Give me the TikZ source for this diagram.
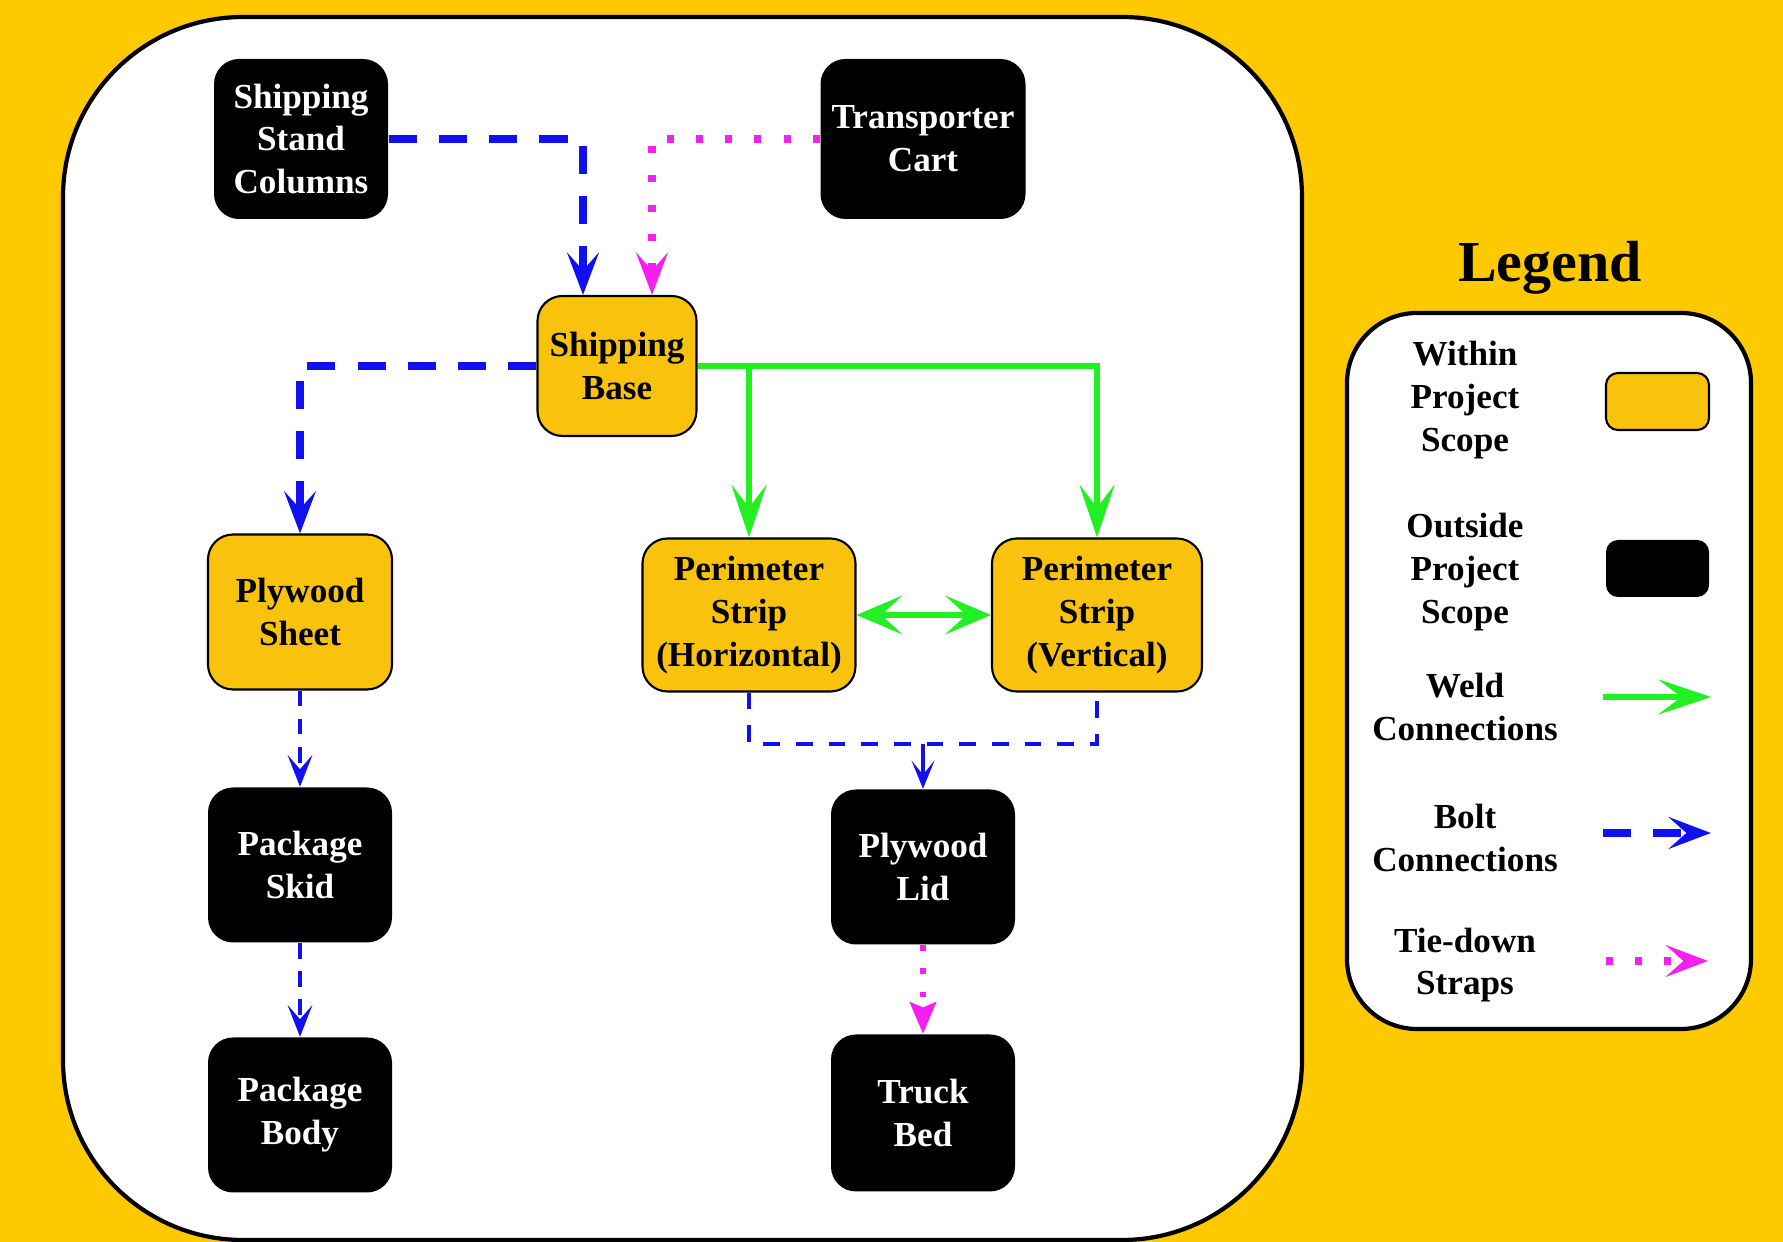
\documentclass[tikz,border=0pt]{standalone}
\usepackage{fontspec}
\setmainfont{Liberation Serif}
\usepackage{xcolor}
\usetikzlibrary{arrows.meta,positioning}
\definecolor{gold}{HTML}{FFC900}
\definecolor{scopegold}{HTML}{F9C20C}
\definecolor{weldgreen}{HTML}{22F022}
\definecolor{boltblue}{HTML}{1010F0}
\definecolor{strapmagenta}{HTML}{F420F0}
\newcommand{\partfont}{\fontsize{10}{12.2}\selectfont\bfseries}
\tikzset{%
  partbox/.style={rounded corners=0.25cm, align=center, inner sep=2pt,
    minimum width=1.84cm, minimum height=1.55cm, font=\partfont},
  inscope/.style={partbox, fill=scopegold, draw=black, line width=0.6pt},
  outscope/.style={partbox, fill=black, text=white},
  panel/.style={draw=black, fill=white, line width=1.2pt},
  weld/.style={draw=weldgreen, line width=1.6pt,
    -{Stealth[length=15pt,width=10pt,inset=6.5pt]}},
  bolt/.style={draw=boltblue, line width=2pt, dash pattern=on 8pt off 6.3pt,
    -{Stealth[length=12pt,width=9pt,inset=5pt]}},
  boltmid/.style={draw=boltblue, line width=1.4pt, dash pattern=on 4.5pt off 3.5pt,
    -{Stealth[length=9pt,width=7pt,inset=4pt]}},
  boltline/.style={draw=boltblue, line width=1.1pt, dash pattern=on 4.8pt off 4.5pt},
  strap/.style={draw=strapmagenta, line width=2pt, dash pattern=on 2pt off 6.3pt,
    -{Stealth[length=12pt,width=9pt,inset=5pt]}},
  strapmid/.style={draw=strapmagenta, line width=1.5pt, dash pattern=on 1.6pt off 5pt,
    -{Stealth[length=9pt,width=7.5pt,inset=1.5pt]}},
  keytext/.style={align=center, font=\partfont},
}

\begin{document}
\begin{tikzpicture}
    \useasboundingbox (0,0) rectangle (17.83,-12.42);
    \fill[gold] (0,0) rectangle (17.83,-12.42);
    \draw[panel, rounded corners=1.8cm] (0.63,-0.17) rectangle (13.02,-12.40);

    \node[outscope, minimum width=1.74cm, minimum height=1.60cm] (ssc) at (3.01,-1.39) {Shipping\\Stand\\Columns};
    \node[outscope, minimum width=2.05cm, minimum height=1.60cm] (cart) at (9.23,-1.39) {Transporter\\Cart};
    \node[inscope, minimum width=1.59cm, minimum height=1.40cm] (base) at (6.17,-3.66) {Shipping\\Base};
    \node[inscope] (sheet) at (3.00,-6.12) {Plywood\\Sheet};
    \node[inscope, minimum width=2.13cm, minimum height=1.53cm] (hstrip) at (7.49,-6.15) {Perimeter\\Strip\\(Horizontal)};
    \node[inscope, minimum width=2.10cm, minimum height=1.53cm] (vstrip) at (10.97,-6.15) {Perimeter\\Strip\\(Vertical)};
    \node[outscope] (skid) at (3.00,-8.65) {Package\\Skid};
    \node[outscope] (body) at (3.00,-11.15) {Package\\Body};
    \node[outscope] (lid) at (9.23,-8.67) {Plywood\\Lid};
    \node[outscope, minimum height=1.57cm] (truck) at (9.23,-11.13) {Truck\\Bed};
    \coordinate[above=0.45cm of lid.north] (merge);

    \draw[bolt] (ssc.east) -| ([xshift=-0.34cm]base.north);
    \draw[strap] (cart.west) -| ([xshift=0.35cm]base.north);
    \draw[bolt] (base.west) -| (sheet.north);
    \draw[weld] (base.east) -| (hstrip.north);
    \draw[weld] (base.east) -| (vstrip.north);
    \draw[weld, {Stealth[length=13pt,width=11pt,inset=6pt]}-{Stealth[length=13pt,width=11pt,inset=6pt]}] (hstrip) -- (vstrip);
    \draw[boltmid] (sheet) -- (skid);
    \draw[boltmid] (skid) -- (body);
    \draw[boltline] (hstrip.south) |- (merge) -| (vstrip.south);
    \draw[boltline, solid, -{Stealth[length=8pt,width=6.5pt,inset=4pt]}] (merge) -- (lid);
    \draw[strapmid] (lid) -- (truck);

    \node[font=\fontsize{16.5}{20}\selectfont\bfseries] (legendtitle) at (15.50,-2.68) {Legend};
    \draw[panel, rounded corners=0.7cm] (13.47,-3.13) rectangle (17.51,-10.29);

    \node[keytext] (kwithin) at (14.65,-4.00) {Within\\Project\\Scope};
    \node[inscope, minimum width=1.03cm, minimum height=0.57cm, rounded corners=0.12cm] (kin) at (16.575,-4.015) {};
    \node[keytext] (koutside) at (14.65,-5.72) {Outside\\Project\\Scope};
    \node[outscope, minimum width=1.03cm, minimum height=0.57cm, rounded corners=0.12cm] (kout) at (16.575,-5.685) {};
    \node[keytext] (kweld) at (14.65,-7.07) {Weld\\Connections};
    \node[keytext] (kbolt) at (14.65,-8.38) {Bolt\\Connections};
    \node[keytext] (kstrap) at (14.65,-9.65) {Tie-down\\Straps};

    \coordinate (kweldA) at (16.03,-6.97);
    \coordinate (kweldB) at (17.11,-6.97);
    \coordinate (kboltA) at (16.03,-8.33);
    \coordinate (kboltB) at (17.11,-8.33);
    \coordinate (kstrapA) at (16.06,-9.61);
    \coordinate (kstrapB) at (17.08,-9.61);
    \draw[weld] (kweldA) -- (kweldB);
    \draw[bolt] (kboltA) -- (kboltB);
    \draw[strap] (kstrapA) -- (kstrapB);
\end{tikzpicture}
\end{document}
